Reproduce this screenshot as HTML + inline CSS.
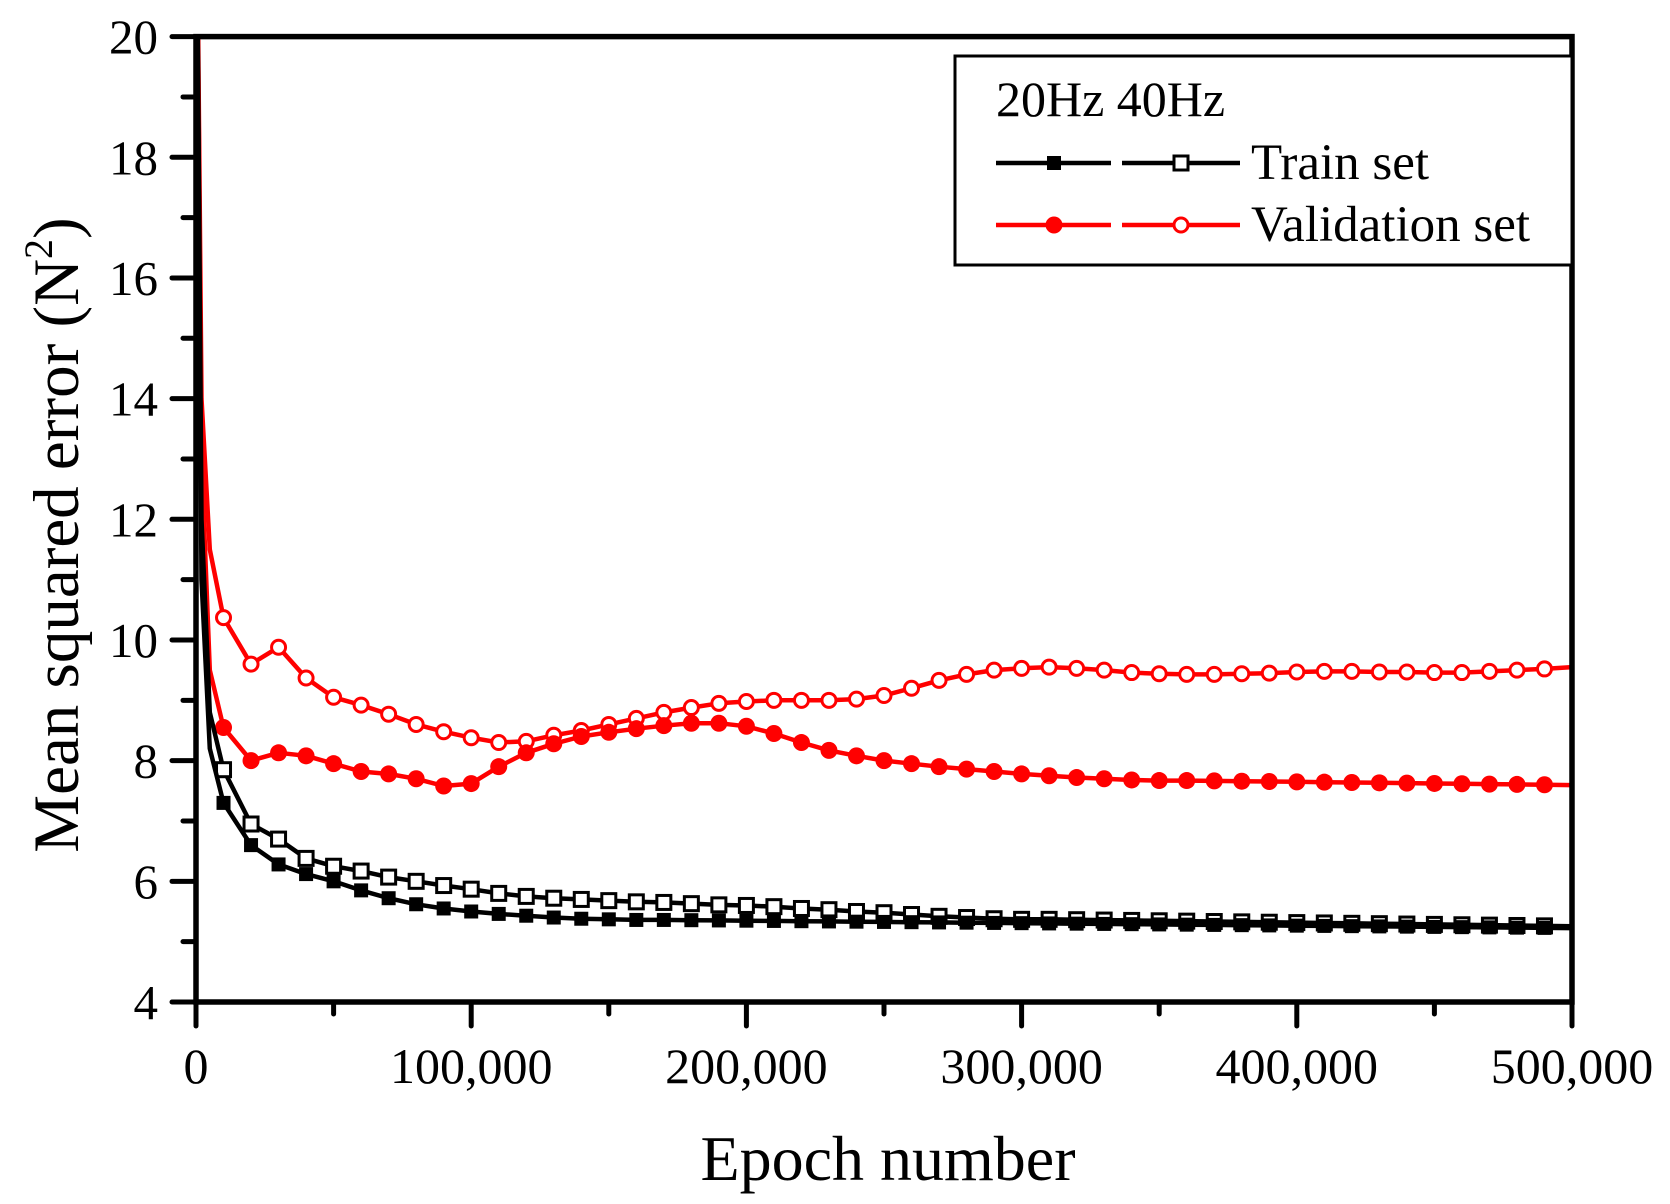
<!DOCTYPE html>
<html><head><meta charset="utf-8"><style>
html,body{margin:0;padding:0;background:#fff;}
svg{display:block;font-family:"Liberation Serif",serif;}
</style></head><body>
<svg id="s" width="1670" height="1204" viewBox="0 0 1670 1204" xmlns="http://www.w3.org/2000/svg">
<rect width="1670" height="1204" fill="#fff"/>
<defs><clipPath id="c"><rect x="196" y="36" width="1376" height="966"/></clipPath></defs>
<g id="plot" clip-path="url(#c)"></g>
<g id="axes"></g>
<rect x="955" y="56" width="617" height="209" fill="#fff" stroke="#000" stroke-width="3"/>
<text x="996" y="116" font-size="50">20Hz 40Hz</text>
<line x1="996" y1="163" x2="1111" y2="163" stroke="#000" stroke-width="4.5"/>
<rect x="1047" y="156" width="14" height="14" fill="#000"/>
<line x1="1122" y1="163" x2="1240" y2="163" stroke="#000" stroke-width="4.5"/>
<rect x="1174" y="156" width="14" height="14" fill="#fff" stroke="#000" stroke-width="3"/>
<text x="1251" y="179" font-size="51">Train set</text>
<line x1="996" y1="225" x2="1111" y2="225" stroke="#f00" stroke-width="4.5"/>
<circle cx="1054" cy="225" r="8.5" fill="#f00"/>
<line x1="1122" y1="225" x2="1240" y2="225" stroke="#f00" stroke-width="4.5"/>
<circle cx="1181" cy="225" r="7" fill="#fff" stroke="#f00" stroke-width="3"/>
<text x="1251" y="241" font-size="51">Validation set</text>
<text x="888" y="1180" font-size="64" text-anchor="middle">Epoch number</text>
<text transform="translate(78,535) rotate(-90)" font-size="65" text-anchor="middle">Mean squared error (N<tspan dy="-26" font-size="40">2</tspan><tspan dy="26">)</tspan></text>
</svg>
<script>
const X0=196,X1=1572,Y0=1002,Y1=36.6;
const sx=e=>X0+(e/500000)*(X1-X0);
const sy=v=>Y0-(v-4)/16*(Y0-Y1);
const NS="http://www.w3.org/2000/svg";
function el(p,n,a){const e=document.createElementNS(NS,n);for(const k in a)e.setAttribute(k,a[k]);p.appendChild(e);return e;}
const ax=document.getElementById('axes'),pl=document.getElementById('plot');
let t20=[7.3,6.6,6.28,6.12,6.0,5.85,5.72,5.62,5.55,5.5,5.46,5.43,5.4,5.38,5.37,5.36];
for(let i=16;i<=50;i++)t20.push(5.36-(0.14)*((i-16)/34));
let t40=[7.85,6.95,6.7,6.38,6.25,6.17,6.07,6.0,5.93,5.87,5.8,5.75,5.72,5.7,5.68,5.66,5.65,5.63,5.61,5.6,5.58,5.55,5.53,5.5,5.48,5.45,5.42,5.4,5.38,5.37];
for(let i=30;i<=50;i++)t40.push(5.37-0.12*((i-30)/20));
let v20=[8.55,8.0,8.13,8.08,7.95,7.82,7.78,7.7,7.58,7.62,7.9,8.13,8.28,8.4,8.47,8.53,8.58,8.62,8.62,8.57,8.45,8.3,8.17,8.08,8.0,7.95,7.9,7.86,7.82,7.78,7.75,7.72,7.7,7.68,7.67];
for(let i=35;i<=50;i++)v20.push(7.67-0.08*((i-35)/15));
let v40=[10.37,9.6,9.88,9.37,9.05,8.92,8.77,8.6,8.48,8.38,8.3,8.32,8.42,8.5,8.6,8.7,8.8,8.88,8.95,8.98,9.0,9.0,9.0,9.02,9.08,9.2,9.33,9.43,9.5,9.53,9.55,9.53,9.5,9.46,9.44,9.43,9.43,9.44,9.45,9.47,9.48,9.48,9.47,9.47,9.46,9.46,9.48,9.5,9.52,9.55];
function series(vals,start,col,mk,fill){
  let pts=[[0,24],[2000,start[0]],[5000,start[1]]];
  vals.forEach((v,i)=>pts.push([(i+1)*10000,v]));
  el(pl,'path',{d:'M'+pts.map(p=>sx(p[0]).toFixed(1)+','+sy(p[1]).toFixed(1)).join('L'),fill:'none',stroke:col,'stroke-width':4.5,'stroke-linejoin':'round'});
  vals.forEach((v,i)=>{const e=(i+1)*10000;if(e>=500000)return;const x=sx(e),y=sy(v);
    if(mk=='s')el(pl,'rect',{x:x-7,y:y-7,width:14,height:14,fill:fill?col:'#fff',stroke:col,'stroke-width':fill?0:3});
    else el(pl,'circle',{cx:x,cy:y,r:fill?8.5:7,fill:fill?col:'#fff',stroke:col,'stroke-width':fill?0:3});});
}
series(v40,[14,11.5],'#f00','c',false);
series(v20,[13,9.5],'#f00','c',true);
series(t40,[12,8.8],'#000','s',false);
series(t20,[11,8.2],'#000','s',true);
el(ax,'rect',{x:X0,y:Y1,width:X1-X0,height:Y0-Y1,fill:'none',stroke:'#000','stroke-width':5.5});
for(let v=4;v<=20;v++){const y=sy(v);const maj=v%2==0;
  el(ax,'line',{x1:X0-(maj?24:13),y1:y,x2:X0,y2:y,stroke:'#000','stroke-width':5,'stroke-linecap':'round'});
  if(maj){const t=el(ax,'text',{x:158,y:y+17,'font-size':49,'text-anchor':'end'});t.textContent=v;}}
for(let e=0;e<=500000;e+=50000){const x=sx(e);const maj=e%100000==0;
  el(ax,'line',{x1:x,y1:Y0,x2:x,y2:Y0+(maj?24:12),stroke:'#000','stroke-width':5,'stroke-linecap':'round'});
  if(maj){const t=el(ax,'text',{x:x,y:1083,'font-size':50,'text-anchor':'middle'});t.textContent=e==0?'0':e.toLocaleString('en-US');}}
</script>
</body></html>
